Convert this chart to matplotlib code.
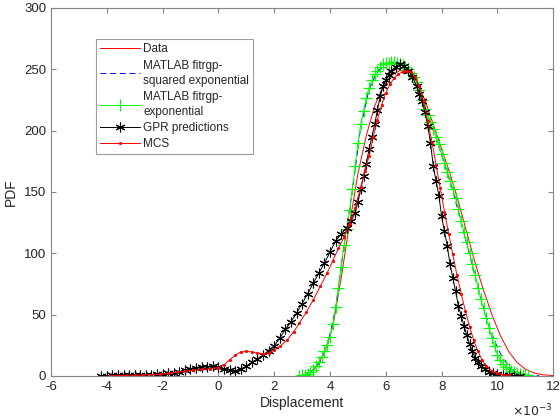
import numpy as np
import matplotlib.pyplot as plt

# =============================================================================
# Data (displacement in units of 1e-3)
# =============================================================================

# GPR predictions (black, asterisks)
gpr_x = [-4.2, -4.0, -3.8, -3.6, -3.4, -3.2, -3.0, -2.8, -2.6, -2.4, -2.2, -2.0,
         -1.8, -1.6, -1.4, -1.2, -1.0, -0.8, -0.6, -0.4, -0.2, 0.0, 0.2, 0.4,
         0.6, 0.8, 1.0, 1.2, 1.4, 1.6, 1.8, 2.0, 2.2, 2.4, 2.6, 2.8, 3.0, 3.2,
         3.4, 3.6, 3.8, 4.0, 4.2, 4.4, 4.6, 4.75, 4.9, 5.0, 5.1, 5.2, 5.3, 5.4,
         5.5, 5.6, 5.7, 5.8, 5.9, 6.0, 6.1, 6.2, 6.35, 6.5, 6.65, 6.8, 6.95,
         7.1, 7.2, 7.3, 7.4, 7.5, 7.6, 7.7, 7.8, 7.9, 8.0, 8.1, 8.2, 8.3, 8.4,
         8.5, 8.6, 8.7, 8.8, 8.9, 9.0, 9.1, 9.2, 9.3, 9.4, 9.55, 9.7, 9.85,
         10.0, 10.2, 10.4, 10.6, 10.8]
gpr_y = [0.3, 0.3, 0.4, 0.4, 0.5, 0.5, 0.6, 0.7, 0.8, 1.0, 1.2, 1.5,
         2.0, 2.7, 3.5, 4.5, 5.5, 6.3, 7.0, 7.5, 7.8, 7.2, 6.0, 4.5,
         4.0, 5.5, 8.0, 11, 14, 17, 20.5, 24.5, 31, 38, 44, 51, 59, 67,
         75.5, 84, 92, 101, 110, 116, 121, 126, 133, 142, 152, 163, 173, 185,
         195, 205, 217, 228, 236, 241, 245, 249, 252, 254, 253, 249, 244,
         236, 230, 224, 215, 204, 190, 171, 159, 147, 130, 118, 106, 91, 80,
         69, 57, 49, 41, 33, 26, 20, 15, 11, 8, 5.5, 3.5, 2.2,
         1.5, 0.8, 0.4, 0.2, 0.1]

# MATLAB fitrgp - exponential (green, plus markers)
exp_x = [2.9, 3.0, 3.1, 3.2, 3.3, 3.4, 3.5, 3.6, 3.7, 3.8, 3.9, 4.0, 4.1, 4.2,
         4.3, 4.4, 4.5, 4.6, 4.7, 4.8, 4.9, 5.0, 5.1, 5.2, 5.3, 5.4, 5.5, 5.6,
         5.7, 5.8, 5.9, 6.0, 6.1, 6.2, 6.3, 6.4, 6.5, 6.6, 6.7, 6.8, 6.9, 7.0,
         7.1, 7.2, 7.3, 7.4, 7.5, 7.6, 7.7, 7.8, 7.9, 8.0, 8.1, 8.2, 8.3, 8.4,
         8.5, 8.6, 8.7, 8.8, 8.9, 9.0, 9.1, 9.2, 9.3, 9.4, 9.5, 9.6, 9.7, 9.8,
         9.9, 10.0, 10.1, 10.2, 10.3, 10.4, 10.5, 10.6, 10.7, 10.8, 10.9, 11.0,
         11.1]
exp_y = [0.2, 0.5, 1.0, 1.8, 3.0, 5.0, 8.0, 11.5, 15.5, 20, 25, 32, 42, 56,
         72, 89, 107, 120, 135, 152, 171, 190, 205, 216, 227, 235, 241, 246,
         249, 252, 254, 255, 255.5, 256, 256, 255, 254.5, 253.5, 252, 250, 247, 244,
         240, 233, 225, 218, 213, 207, 201, 195, 189, 181, 174, 166, 159, 152,
         145, 136, 126, 117, 109, 100, 91, 82, 72, 63, 55, 47, 39, 31,
         24, 17, 13, 10, 7.5, 5.5, 4.0, 3.0, 2.2, 1.5, 1.0, 0.6,
         0.4]

# MATLAB fitrgp - squared exponential (blue dashed)
sqexp_x = [3.0, 3.3, 3.6, 3.9, 4.2, 4.5, 4.8, 5.1, 5.4, 5.7, 6.0, 6.3, 6.6,
           6.9, 7.2, 7.5, 7.8, 8.1, 8.4, 8.7, 9.0, 9.3, 9.6, 9.9, 10.2, 10.5,
           10.8, 11.1, 11.5]
sqexp_y = [0.3, 2.5, 10, 24, 55, 106, 151, 203, 234, 248, 254, 255, 252,
           246, 232, 212, 194, 173, 151, 125, 99, 72, 48, 28, 14, 5.5,
           2.0, 0.6, 0.1]

# Data (red solid)
data_x = [2.9, 3.2, 3.5, 3.8, 4.1, 4.4, 4.7, 5.0, 5.3, 5.6, 5.9, 6.2, 6.5,
          6.8, 7.1, 7.4, 7.7, 8.0, 8.3, 8.6, 8.9, 9.2, 9.5, 9.8, 10.1, 10.4,
          10.7, 11.0, 11.3, 11.6, 12.0]
data_y = [0.2, 1.5, 7, 19, 40, 80, 124, 165, 196, 220, 236, 245, 249,
          248, 240, 225, 205, 185, 165, 142, 117, 92, 70, 50, 33, 20,
          11, 5.5, 2.5, 1.0, 0.3]

# MCS (red with dots)
mcs_x = [-3.9, -3.6, -3.3, -3.0, -2.7, -2.4, -2.1, -1.8, -1.5, -1.2, -0.9,
         -0.6, -0.3, 0.0, 0.2, 0.4, 0.6, 0.8, 1.0, 1.2, 1.4, 1.6, 1.8, 2.0,
         2.2, 2.45, 2.7, 2.9, 3.15, 3.4, 3.65, 3.9, 4.1, 4.3, 4.5, 4.7, 4.9,
         5.1, 5.25, 5.4, 5.55, 5.7, 5.85, 6.0, 6.15, 6.3, 6.45, 6.6, 6.75,
         6.9, 7.05, 7.2, 7.35, 7.5, 7.65, 7.8, 7.95, 8.1, 8.25, 8.4, 8.55,
         8.7, 8.85, 9.0, 9.15, 9.3, 9.45, 9.6, 9.8, 10.0, 10.2, 10.4]
mcs_y = [0.2, 0.3, 0.4, 0.5, 0.7, 1.0, 1.4, 2.0, 3.0, 3.8, 4.6,
         5.3, 6.0, 6.8, 9, 13, 17, 19.5, 20, 19.5, 18.5, 18, 19, 21,
         24, 29, 36, 43, 52, 62, 73, 84, 94, 104, 113, 124, 137,
         154, 167, 179, 195, 209, 221, 231, 238, 243, 246, 248, 249,
         248, 244, 236, 224, 208, 191, 172, 153, 134, 116, 99, 82,
         67, 53, 40, 29, 20, 13, 8, 4, 2, 1, 0.5]

# =============================================================================
# Plotting
# =============================================================================

plt.rcParams['font.family'] = ['Liberation Sans', 'DejaVu Sans']
plt.rcParams['axes.unicode_minus'] = False

fig = plt.figure(figsize=(5.6, 4.2), dpi=100)
ax = fig.add_axes([0.091, 0.105, 0.897, 0.876])

asterisk = (6, 2, 0)

ax.plot(data_x, data_y, color='red', linewidth=0.7, label='Data')
ax.plot(sqexp_x, sqexp_y, color='blue', linewidth=0.7, linestyle=(0, (6, 4)),
        label='MATLAB fitrgp-\nsquared exponential')
ax.plot(exp_x, exp_y, color='#00ff00', linewidth=0.7, marker='+', markersize=8,
        markeredgewidth=0.8, label='MATLAB fitrgp-\nexponential')
ax.plot(gpr_x, gpr_y, color='black', linewidth=0.7, marker=asterisk,
        markersize=7, markeredgewidth=0.8, label='GPR predictions')
ax.plot(mcs_x, mcs_y, color='red', linewidth=0.7, marker='.', markersize=2.5,
        label='MCS')

ax.set_xlim(-6, 12)
ax.set_ylim(0, 300)
ax.set_xticks(np.arange(-6, 13, 2))
ax.set_yticks(np.arange(0, 301, 50))

for s in ax.spines.values():
    s.set_color('#858585')
    s.set_linewidth(0.8)
ax.tick_params(direction='in', top=True, right=True, length=3.5, width=0.8,
               color='#858585', labelcolor='#262626', labelsize=9.5)

ax.set_xlabel('Displacement', fontsize=10, color='#262626', labelpad=2)
ax.set_ylabel('PDF', fontsize=10, color='#262626', labelpad=4)
ax.text(0.999, -0.095, r'$\times10^{-3}$', transform=ax.transAxes,
        ha='right', va='center', fontsize=9, color='#262626')

leg = ax.legend(loc='upper left', bbox_to_anchor=(0.09, 0.915), fontsize=8.5,
                frameon=True, fancybox=False, handlelength=3.4, numpoints=1,
                handletextpad=0.25, borderpad=0.35, labelspacing=0.35,
                borderaxespad=0)
leg.get_frame().set_edgecolor('#858585')
leg.get_frame().set_linewidth(0.8)
for t in leg.get_texts():
    t.set_color('#262626')
    t.set_linespacing(1.35)

plt.savefig('out.png', dpi=100)
